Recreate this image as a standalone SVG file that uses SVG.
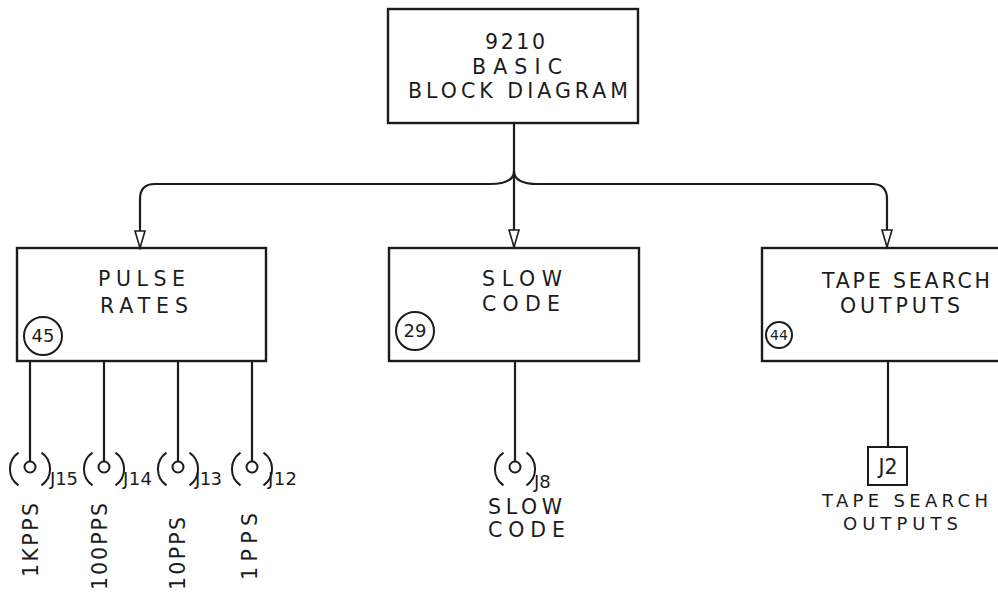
<svg xmlns="http://www.w3.org/2000/svg" width="998" height="597" viewBox="0 0 998 597">
<style>
.box{fill:none;stroke:#1c1c1c;stroke-width:2.4}
.ln{fill:none;stroke:#1c1c1c;stroke-width:2.2}
.thin{fill:none;stroke:#1c1c1c;stroke-width:2}
.t{font-family:"DejaVu Sans","Liberation Sans",Arial,sans-serif;font-size:20.5px;fill:#1c1c1c}
.s{font-family:"DejaVu Sans","Liberation Sans",Arial,sans-serif;font-size:18px;fill:#1c1c1c}
.m{text-anchor:middle}
</style>
<defs>
<marker id="ah" markerUnits="userSpaceOnUse" markerWidth="22" markerHeight="14" viewBox="-18 -7 20 14" refX="0" refY="0" orient="auto">
<polygon points="-17,-5 -17,5 0,0" fill="#fff" stroke="#1c1c1c" stroke-width="1.6"/>
</marker>
</defs>
<rect width="998" height="597" fill="#fff"/>

<g id="connectors">
<path class="ln" d="M514,123 V247" marker-end="url(#ah)"/>
<path class="ln" d="M514,171 C514,180 506,184 490,184 H155 Q140,184 140,199 V248" marker-end="url(#ah)"/>
<path class="ln" d="M514,171 C514,180 522,184 538,184 H872 Q887,184 887,199 V247" marker-end="url(#ah)"/>
<path class="ln" d="M30,361 V461.5 M104,361 V461.5 M178,361 V461.5 M252,361 V461.5"/>
<path class="ln" d="M515,361 V461.5"/>
<path class="ln" d="M888,361 V447"/>
</g>

<g id="node-main">
<rect class="box" x="388" y="9" width="250" height="114"/>
<text class="t" x="485" y="49" textLength="60" lengthAdjust="spacing">9210</text>
<text class="t" x="472" y="74" textLength="90" lengthAdjust="spacing">BASIC</text>
<text class="t" x="408" y="98" textLength="220" lengthAdjust="spacing">BLOCK DIAGRAM</text>
</g>

<g id="node-pulse-rates">
<rect class="box" x="17" y="248" width="249" height="113"/>
<text class="t" x="98" y="286" textLength="87" lengthAdjust="spacing">PULSE</text>
<text class="t" x="100" y="313" textLength="88" lengthAdjust="spacing">RATES</text>
<circle class="thin" cx="43" cy="336" r="19"/>
<text class="s m" x="43" y="342">45</text>
</g>

<g id="node-slow-code">
<rect class="box" x="389" y="248" width="250" height="113"/>
<text class="t" x="482" y="286" textLength="80" lengthAdjust="spacing">SLOW</text>
<text class="t" x="482" y="311" textLength="78" lengthAdjust="spacing">CODE</text>
<circle class="thin" cx="415" cy="331" r="19"/>
<text class="s m" x="415" y="337">29</text>
</g>

<g id="node-tape-search">
<rect class="box" x="762" y="248" width="240" height="113"/>
<text class="t" x="822" y="288" textLength="168" lengthAdjust="spacing">TAPE SEARCH</text>
<text class="t" x="840" y="313" textLength="120" lengthAdjust="spacing">OUTPUTS</text>
<circle class="thin" cx="779" cy="335" r="13"/>
<text class="s m" x="779" y="340" style="font-size:14px">44</text>
</g>

<g id="node-j15">
<circle class="thin" cx="30" cy="467" r="5.5"/>
<path class="thin" d="M18.5,452.6 A20,20 0 0 0 18.5,485.4 M41.5,452.6 A20,20 0 0 1 41.5,485.4"/>
<text class="s" x="50" y="485" textLength="28" lengthAdjust="spacing">J15</text>
<text class="t" transform="translate(38,577) rotate(-90)" textLength="74" lengthAdjust="spacing">1KPPS</text>
</g>
<g id="node-j14">
<circle class="thin" cx="104" cy="467" r="5.5"/>
<path class="thin" d="M92.5,452.6 A20,20 0 0 0 92.5,485.4 M115.5,452.6 A20,20 0 0 1 115.5,485.4"/>
<text class="s" x="123" y="485" textLength="29" lengthAdjust="spacing">J14</text>
<text class="t" transform="translate(107,590) rotate(-90)" textLength="87" lengthAdjust="spacing">100PPS</text>
</g>
<g id="node-j13">
<circle class="thin" cx="178" cy="467" r="5.5"/>
<path class="thin" d="M166.5,452.6 A20,20 0 0 0 166.5,485.4 M189.5,452.6 A20,20 0 0 1 189.5,485.4"/>
<text class="s" x="195" y="485" textLength="27" lengthAdjust="spacing">J13</text>
<text class="t" transform="translate(185,590) rotate(-90)" textLength="73" lengthAdjust="spacing">10PPS</text>
</g>
<g id="node-j12">
<circle class="thin" cx="252" cy="467" r="5.5"/>
<path class="thin" d="M240.5,452.6 A20,20 0 0 0 240.5,485.4 M263.5,452.6 A20,20 0 0 1 263.5,485.4"/>
<text class="s" x="268" y="485" textLength="29" lengthAdjust="spacing">J12</text>
<text class="t" transform="translate(257,580) rotate(-90)" textLength="67" lengthAdjust="spacing">1PPS</text>
</g>

<g id="node-j8">
<circle class="thin" cx="515" cy="467" r="5.5"/>
<path class="thin" d="M503.5,452.6 A20,20 0 0 0 503.5,485.4 M526.5,452.6 A20,20 0 0 1 526.5,485.4"/>
<text class="s" x="534" y="488">J8</text>
<text class="t" x="488" y="514" textLength="74" lengthAdjust="spacing">SLOW</text>
<text class="t" x="488" y="537" textLength="77" lengthAdjust="spacing">CODE</text>
</g>

<g id="node-j2">
<rect class="thin" x="868" y="447" width="39" height="38"/>
<text class="t m" x="888" y="474">J2</text>
<text class="s" x="822" y="507" textLength="166" lengthAdjust="spacing">TAPE SEARCH</text>
<text class="s" x="843" y="530" textLength="115" lengthAdjust="spacing">OUTPUTS</text>
</g>
</svg>
